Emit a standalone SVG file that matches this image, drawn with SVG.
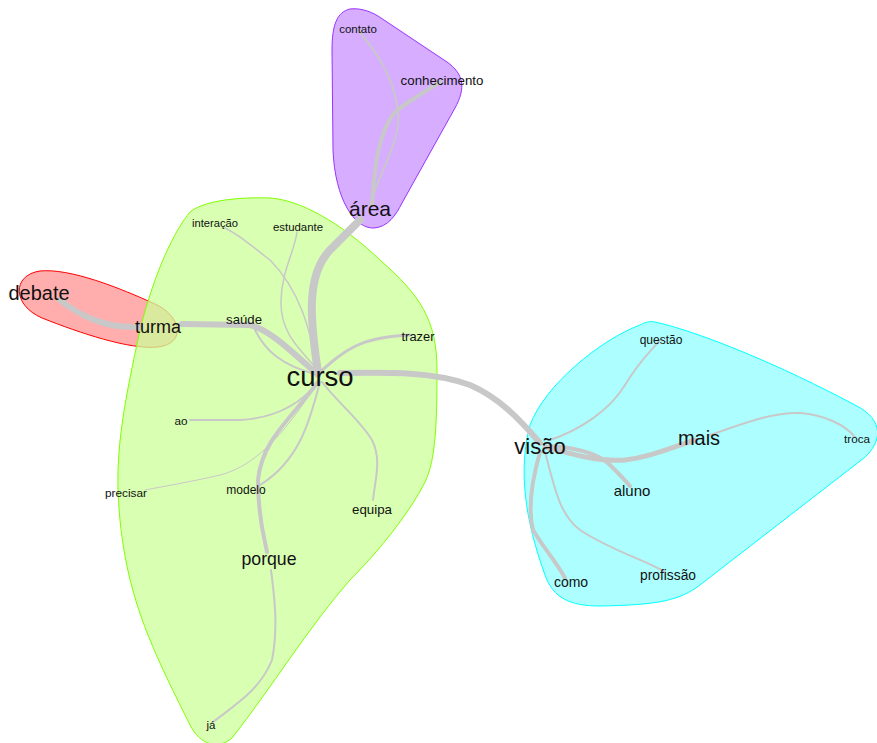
<svg xmlns="http://www.w3.org/2000/svg" width="877" height="743" viewBox="0 0 877 743">
<style>
.e{fill:none;stroke:#c8c8c8;stroke-linecap:round}
text{font-family:"Liberation Sans",Arial,sans-serif;fill:#111;text-anchor:middle;dominant-baseline:central}
</style>
<rect width="877" height="743" fill="#fff"/>
<g id="hulls">
<path id="hull-red" d="M40,271 C70,268 120,288 155,304 C180,315 188,343 158,347 C130,350 80,333 42,318 C12,305 12,275 40,271 Z" fill="#ff9999" fill-opacity="0.8" stroke="#ff0000" stroke-width="1"/>
<path id="hull-green" d="M270,198 C300,200 340,222 380,260 C420,295 437,320 437,370 C437,420 436,460 425,482 C410,512 380,550 350,580 C310,625 270,690 232,738 C218,750 200,745 190,725 C175,695 160,665 148,635 C130,590 120,545 118,490 C117,440 125,400 140,330 C155,270 175,230 190,212 C205,200 240,197 270,198 Z" fill="#ccff99" fill-opacity="0.75" stroke="#7fff00" stroke-width="1"/>
<path id="hull-purple" d="M350,9 C337,12 332,25 332,50 L333,150 C335,200 355,229 374,228 C388,227 396,215 402,203 L455,108 C466,88 464,74 447,62 L378,16 C368,10 358,8 350,9 Z" fill="#cc99ff" fill-opacity="0.8" stroke="#9933ff" stroke-width="1"/>
<path id="hull-cyan" d="M655,322 C700,332 780,365 855,405 C885,420 882,442 864,458 L700,585 C680,600 660,605 600,606 C570,606 553,598 545,575 C525,520 518,470 530,425 C545,385 600,340 640,325 C645,322 650,321 655,322 Z" fill="#99ffff" fill-opacity="0.8" stroke="#00ffff" stroke-width="1"/>
</g>
<g id="connectors">
<path class="e" stroke-width="8" d="M318,372 C310,320 306,275 330,250 L360,220"/>
<path class="e" stroke-width="4" d="M372,205 C375,160 380,130 395,112 C410,100 425,92 440,82"/>
<path class="e" stroke-width="2" d="M370,205 C380,170 402,140 398,110 C393,75 375,50 358,30"/>
<path class="e" stroke-width="6" d="M340,373 C390,372 435,372 470,385 C500,398 520,420 540,443"/>
<path class="e" stroke-width="6" d="M318,375 C290,350 270,330 250,325 L182,324"/>
<path class="e" stroke-width="6" d="M140,327 C110,328 85,320 60,300"/>
<path class="e" stroke-width="2" d="M318,375 C280,365 265,350 255,330"/>
<path class="e" stroke-width="1.5" d="M318,370 C310,330 300,290 270,260 C250,245 240,235 225,228"/>
<path class="e" stroke-width="1.5" d="M318,370 C295,345 280,330 281,300 C282,270 295,250 297,232"/>
<path class="e" stroke-width="3" d="M320,372 C345,350 360,337 410,335"/>
<path class="e" stroke-width="2" d="M318,382 C300,405 275,418 240,420 L190,420"/>
<path class="e" stroke-width="1" d="M318,382 C290,425 260,465 220,475 C190,482 160,487 145,490"/>
<path class="e" stroke-width="2" d="M320,382 C310,420 300,460 260,485"/>
<path class="e" stroke-width="4" d="M318,382 C290,420 262,440 258,480 C258,520 265,540 267,552"/>
<path class="e" stroke-width="2" d="M322,382 C340,405 360,420 372,440 C382,460 375,480 373,500"/>
<path class="e" stroke-width="2" d="M271,570 C275,600 278,630 272,660 C260,690 235,705 213,722"/>
<path class="e" stroke-width="5" d="M545,447 C575,455 600,462 625,460 C650,457 670,448 695,440"/>
<path class="e" stroke-width="2" d="M710,435 C740,425 770,412 800,413 C825,415 845,425 855,437"/>
<path class="e" stroke-width="4" d="M550,446 C580,448 600,455 610,465 C620,475 625,480 630,486"/>
<path class="e" stroke-width="2" d="M550,440 C580,430 610,410 625,385 C640,360 650,352 660,340"/>
<path class="e" stroke-width="4" d="M540,452 C532,480 528,510 533,530 C545,550 555,560 565,578"/>
<path class="e" stroke-width="2" d="M545,452 C555,490 560,515 580,530 C610,550 645,560 665,572"/>
</g>
<g id="n-contato"><text x="358" y="29" font-size="11.5">contato</text></g>
<g id="n-conhecimento"><text x="442" y="80" font-size="13.3">conhecimento</text></g>
<g id="n-area"><text x="370" y="208" font-size="21">área</text></g>
<g id="n-interacao"><text x="215" y="223" font-size="11.2">interação</text></g>
<g id="n-estudante"><text x="298" y="227" font-size="11.4">estudante</text></g>
<g id="n-debate"><text x="39" y="293" font-size="20">debate</text></g>
<g id="n-turma"><text x="158" y="327" font-size="18">turma</text></g>
<g id="n-saude"><text x="244" y="319" font-size="13.2">saúde</text></g>
<g id="n-trazer"><text x="418" y="336" font-size="12.9">trazer</text></g>
<g id="n-curso"><text x="320" y="376" font-size="27.5">curso</text></g>
<g id="n-ao"><text x="181" y="420" font-size="11.7">ao</text></g>
<g id="n-precisar"><text x="126" y="493" font-size="11.8">precisar</text></g>
<g id="n-modelo"><text x="246" y="490" font-size="12">modelo</text></g>
<g id="n-equipa"><text x="372" y="509" font-size="13.3">equipa</text></g>
<g id="n-porque"><text x="269" y="559" font-size="17.7">porque</text></g>
<g id="n-ja"><text x="211" y="725" font-size="11.5">já</text></g>
<g id="n-questao"><text x="661" y="340" font-size="12">questão</text></g>
<g id="n-visao"><text x="540" y="446" font-size="22">visão</text></g>
<g id="n-mais"><text x="699" y="438" font-size="20">mais</text></g>
<g id="n-troca"><text x="857" y="438" font-size="11.7">troca</text></g>
<g id="n-aluno"><text x="632" y="490" font-size="15">aluno</text></g>
<g id="n-como"><text x="571" y="582" font-size="14">como</text></g>
<g id="n-profissao"><text x="668" y="575" font-size="13.8">profissão</text></g>
</svg>
